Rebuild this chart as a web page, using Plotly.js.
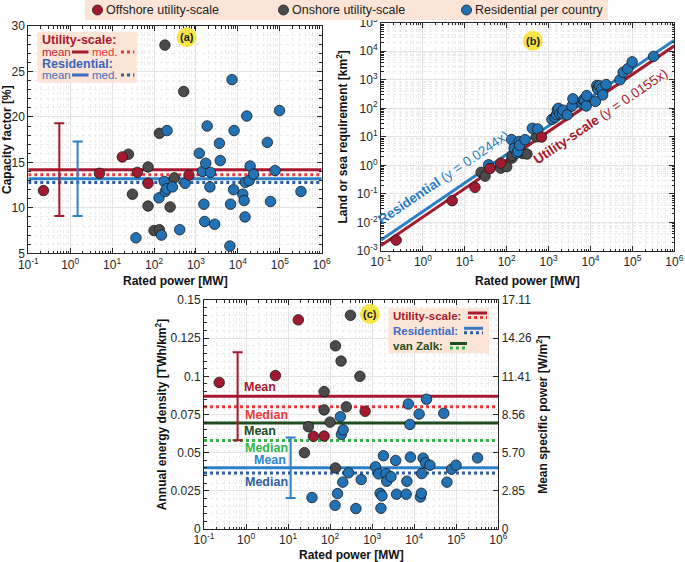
<!DOCTYPE html>
<html><head><meta charset="utf-8">
<script src="https://cdn.plot.ly/plotly-3.0.1.min.js"></script>
<style>html,body{margin:0;padding:0;background:#fff;}#chart{width:685px;height:562px;}</style>
</head><body><div id="chart"></div>
<script>
// ---------------- DATA ----------------
// Offshore utility-scale
const offP    = [0.23, 5, 17.5, 40, 72, 680];
const offCF   = [11.9, 13.8, 15.6, 13.9, 12.7, 13.6];
const offArea = [0.0024, 0.058, 0.17, 0.78, 1.2, 9.8];
const offED   = [0.096, 0.1005, 0.137, 0.0607, 0.0609, 0.0771];
// Onshore utility-scale
const onP    = [24.5, 30.5, 72, 72, 100, 134, 134, 182, 242, 305, 510];
const onCF   = [15.9, 11.5, 14.5, 10.2, 7.5, 18.2, 7.6, 27.9, 10.1, 13.3, 22.8];
const onArea = [0.57, 0.42, 1.0, 0.8, 0.9, 1.8, 2.2, 3.9, 2.6, 2.5, 10];
const onED   = [0.050, 0.067, 0.090, 0.078, 0.070, 0.120, 0.040, 0.110, 0.080, 0.140, 0.100];
// Residential per country
const resP  = [37, 131, 150, 175, 185, 200, 204, 274, 410, 549, 1200, 1425, 1545, 1615, 1710, 1850, 2150, 2220, 2800, 3620,
               3800, 6450, 6700, 7250, 7900, 8120, 13100, 14100, 14800, 15100, 16300, 18600, 19600, 23600, 50500, 60000, 77300, 98600, 320000];
const resCF = [6.7, 11.1, 7.0, 12.9, 11.8, 12.1, 18.5, 12.3, 7.6, 12.7, 16.0, 14.0, 10.4, 8.5, 14.9, 19.0, 12.3, 13.9, 8.2, 17.1,
               15.2, 5.8, 10.4, 24.1, 12.0, 18.5, 11.5, 10.8, 9.0, 12.8, 20.1, 13.0, 14.6, 13.7, 17.2, 10.7, 14.1, 20.7, 11.8];
const resArea = [1.05, 8, 4, 2.7, 3.1, 6.9, 5.1, 8, 20, 19, 41, 48, 60, 88, 100, 64, 64, 86, 59, 120,
                 215, 144, 195, 187, 121, 279, 175, 630, 500, 466, 620, 490, 295, 680, 1000, 1830, 2430, 4250, 6600];
const resED = [0.0206, 0.0155, 0.0232, 0.0736, 0.062, 0.0307, 0.065, 0.0368, 0.0134, 0.0324, 0.0407, 0.0361, 0.0234, 0.0136, 0.0217, 0.048, 0.0363, 0.0313, 0.0342, 0.0449,
               0.0228, 0.0228, 0.0313, 0.0819, 0.0685, 0.0471, 0.0753, 0.021, 0.0234, 0.0363, 0.0464, 0.0434, 0.085, 0.0418, 0.0758, 0.0307, 0.0392, 0.0418, 0.0466];

// Summary statistics
const lineX = [0.1, 1e6];
const aUtil = {mean: 14.2, median: 13.65, sd: 5.1, errX: 0.55};
const aRes  = {mean: 13.2, median: 12.8, sd: 4.1, errX: 1.5};
const cUtil = {mean: 0.0869, median: 0.0801, sd: 0.0288, errX: 0.63};
const cRes  = {mean: 0.0401, median: 0.0366, sd: 0.0198, errX: 11.5};
const cVanZalk = {mean: 0.0694, median: 0.058};
// Fit lines in (b)
const resFitY  = [0.00244, 24400];   // y = 0.0244x
const utilFitY = [0.00155, 15500];   // y = 0.0155x

// Tick labels
const decadesA = [0.1, 1, 10, 100, 1000, 1e4, 1e5, 1e6];
const decadesAText = ['10<sup>-1</sup>','10<sup>0</sup>','10<sup>1</sup>','10<sup>2</sup>','10<sup>3</sup>','10<sup>4</sup>','10<sup>5</sup>','10<sup>6</sup>'];
const decadesB = [1e-3, 1e-2, 0.1, 1, 10, 100, 1000, 1e4, 1e5];
const decadesBText = ['10<sup>-3</sup>','10<sup>-2</sup>','10<sup>-1</sup>','10<sup>0</sup>','10<sup>1</sup>','10<sup>2</sup>','10<sup>3</sup>','10<sup>4</sup>','10<sup>5</sup>'];
const edTicks = [0, 0.025, 0.05, 0.075, 0.1, 0.125, 0.15];
const edTickText = ['0', '0.025', '0.05', '0.075', '0.1', '0.125', '0.15'];
const spTickText = ['0', '2.85', '5.70', '8.56', '11.41', '14.26', '17.11'];

// ---------------- STYLE ----------------
const W = 685, H = 562;
const FONT = 'Liberation Sans, Arial, Helvetica, sans-serif';
const C = {
  off: '#a3192f', on: '#4b4b4b', res: '#2272b6',
  darkRed: '#a6192e', red: '#ea3a3c',
  blueMean: '#2c80c8', blueMed: '#2f5f9e',
  dGreen: '#1f4d1f', lGreen: '#33b54a',
  peach: '#fce4d6', yellow: '#f5e547', axis: '#262626'
};
function minorLog(a, b) { const v = []; for (let e = a; e < b; e++) for (let m = 2; m <= 9; m++) v.push(m * Math.pow(10, e)); return v; }
const axBase = {
  showline: true, linecolor: C.axis, linewidth: 1, mirror: 'ticks',
  ticks: 'inside', ticklen: 5, tickwidth: 1, tickcolor: C.axis,
  showgrid: true, gridcolor: '#e4e4e4', gridwidth: 1, zeroline: false,
  tickfont: {family: FONT, size: 12, color: C.axis}, automargin: false
};
const titleFont = {family: FONT, size: 12, color: '#111'};
const MINGRID = '#ececec';
function logAxis(domain, range, tv, tt, anchor, minA, minB, title) {
  return Object.assign({}, axBase, {
    type: 'log', domain, range, anchor, tickmode: 'array', tickvals: tv, ticktext: tt,
    minor: {tickmode: 'array', tickvals: minorLog(minA, minB), ticks: 'inside', ticklen: 2.5, tickcolor: C.axis,
            showgrid: true, gridcolor: MINGRID, griddash: 'dot', gridwidth: 1},
    title: title ? {text: title, font: titleFont} : undefined
  });
}
const mk = (color) => ({size: 10.5, color, line: {color: '#1a1a1a', width: 0.8}});
const traces = [];
function hline(xa, ya, yv, color, dash, width) {
  traces.push({x: lineX, y: [yv, yv], xaxis: xa, yaxis: ya, mode: 'lines', line: {color, dash, width}, hoverinfo: 'skip', showlegend: false});
}
function errbar(xa, ya, s, color) {
  traces.push({x: [s.errX], y: [s.mean], xaxis: xa, yaxis: ya, mode: 'markers', marker: {size: 1, color: 'rgba(0,0,0,0)'},
    error_y: {type: 'data', array: [s.sd], color, thickness: 2, width: 5}, hoverinfo: 'skip', showlegend: false});
}
function pts(xa, ya, x, y, color) {
  traces.push({x, y, xaxis: xa, yaxis: ya, mode: 'markers', marker: mk(color), hoverinfo: 'skip', showlegend: false});
}

// Panel (a)
hline('x', 'y', aUtil.mean, C.darkRed, 'solid', 3);
hline('x', 'y', aUtil.median, C.red, 'dot', 3);
hline('x', 'y', aRes.mean, C.blueMean, 'solid', 3);
hline('x', 'y', aRes.median, C.blueMed, 'dot', 3);
errbar('x', 'y', aUtil, C.darkRed);
errbar('x', 'y', aRes, C.blueMean);
pts('x', 'y', onP, onCF, C.on);
pts('x', 'y', resP, resCF, C.res);
pts('x', 'y', offP, offCF, C.off);

// Panel (b)
traces.push({x: lineX, y: utilFitY, xaxis: 'x2', yaxis: 'y2', mode: 'lines', line: {color: C.darkRed, width: 3}, hoverinfo: 'skip', showlegend: false});
traces.push({x: lineX, y: resFitY, xaxis: 'x2', yaxis: 'y2', mode: 'lines', line: {color: C.blueMean, width: 3}, hoverinfo: 'skip', showlegend: false});
pts('x2', 'y2', onP, onArea, C.on);
pts('x2', 'y2', resP, resArea, C.res);
pts('x2', 'y2', offP, offArea, C.off);

// Panel (c)
hline('x3', 'y3', cUtil.mean, C.darkRed, 'solid', 3);
hline('x3', 'y3', cUtil.median, C.red, 'dot', 3);
hline('x3', 'y3', cVanZalk.mean, C.dGreen, 'solid', 3);
hline('x3', 'y3', cVanZalk.median, C.lGreen, 'dot', 3);
hline('x3', 'y3', cRes.mean, C.blueMean, 'solid', 3);
hline('x3', 'y3', cRes.median, C.blueMed, 'dot', 3);
pts('x3', 'y3', onP, onED, C.on);
pts('x3', 'y3', resP, resED, C.res);
pts('x3', 'y3', offP, offED, C.off);
errbar('x3', 'y4', cUtil, C.darkRed);
errbar('x3', 'y4', cRes, C.blueMean);

// ---------------- LAYOUT ----------------
const px = (x) => x / W, py = (y) => 1 - y / H;
const shapes = [], ann = [];
function rect(x0, y0, x1, y1, fill) { shapes.push({type: 'rect', xref: 'paper', yref: 'paper', x0: px(x0), x1: px(x1), y0: py(y1), y1: py(y0), fillcolor: fill, line: {width: 0}, layer: 'above'}); }
function seg(x0, x1, y, color, dash) { shapes.push({type: 'line', xref: 'paper', yref: 'paper', x0: px(x0), x1: px(x1), y0: py(y), y1: py(y), line: {color, width: 3, dash}, layer: 'above'}); }
function circ(cx, cy, r, fill, lw) { shapes.push({type: 'circle', xref: 'paper', yref: 'paper', x0: px(cx - r), x1: px(cx + r), y0: py(cy + r), y1: py(cy - r), fillcolor: fill, line: {color: '#1a1a1a', width: lw}, layer: 'above'}); }
function txt(x, y, text, size, color, xanchor, angle) {
  ann.push({xref: 'paper', yref: 'paper', x: px(x), y: py(y), text, showarrow: false, xanchor: xanchor || 'left', yanchor: 'middle',
    font: {family: FONT, size, color}, textangle: angle || 0});
}

// Axis titles for the x axes
txt(175, 280.5, '<b>Rated power [MW]</b>', 12, '#111', 'center');
txt(527.6, 281, '<b>Rated power [MW]</b>', 12, '#111', 'center');
txt(351.2, 555, '<b>Rated power [MW]</b>', 12, '#111', 'center');

// Top legend
rect(85, 0, 608, 20, C.peach);
circ(97.5, 10, 5, C.off, 0.8); txt(104, 10.5, 'Offshore utility-scale', 12.5, '#222');
circ(283.5, 10, 5, C.on, 0.8); txt(290, 10.5, 'Onshore utility-scale', 12.5, '#222');
circ(466.5, 10, 5, C.res, 0.8); txt(473, 10.5, 'Residential per country', 12.5, '#222');

// Panel (a) inset legend
rect(37.3, 31.7, 136.7, 82.7, C.peach);
txt(39.5, 40, '<b>Utility-scale:</b>', 12.5, C.darkRed);
txt(39.5, 52, 'mean', 11.5, '#c42236'); seg(72, 88.5, 52, C.darkRed, 'solid');
txt(90, 52, 'med.', 11.5, C.red); seg(121, 134.3, 52, C.red, 'dot');
txt(39.5, 64, '<b>Residential:</b>', 12.5, '#3b66bb');
txt(39.5, 75, 'mean', 11.5, '#3f6ec0'); seg(72, 88.5, 75, '#3f6ec0', 'solid');
txt(90, 75, 'med.', 11.5, '#3f6ec0'); seg(121, 134.3, 75, C.blueMed, 'dot');

// Panel (c) legend
rect(388.3, 308.3, 489.3, 353.3, C.peach);
txt(391, 315.5, '<b>Utility-scale:</b>', 11.5, C.darkRed);
seg(468, 487, 313, C.darkRed, 'solid'); seg(468, 487, 317.5, C.red, 'dot');
txt(391, 330.5, '<b>Residential:</b>', 11.5, '#3d6cc6');
seg(464, 483, 328.3, '#3a78c8', 'solid'); seg(464, 483, 332.8, C.blueMed, 'dot');
txt(391, 346, '<b>van Zalk:</b>', 11.5, C.dGreen);
seg(450, 467, 343.5, C.dGreen, 'solid'); seg(450, 467, 348, C.lGreen, 'dot');

// Panel letters
circ(186.7, 37.3, 10, C.yellow, 0); txt(186.7, 37.5, '<b>(a)</b>', 11, '#222', 'center');
circ(532.7, 40.7, 10, C.yellow, 0); txt(532.7, 41, '<b>(b)</b>', 11, '#222', 'center');
circ(370, 314, 10, C.yellow, 0); txt(370, 314.3, '<b>(c)</b>', 11, '#222', 'center');

// Panel (b) fit labels
txt(443.5, 177.5, '<b>Residential</b> (y = 0.0244x)', 13.5, '#2a7cc4', 'center', -34.2);
txt(600.5, 116, '<b>Utility-scale</b> (y = 0.0155x)', 13.5, C.darkRed, 'center', -34.2);

// Panel (c) mean/median labels
txt(260, 387, '<b>Mean</b>', 12.5, C.darkRed, 'center');
txt(266.7, 415, '<b>Median</b>', 12.5, C.red, 'center');
txt(260, 431, '<b>Mean</b>', 12.5, C.dGreen, 'center');
txt(266.7, 448, '<b>Median</b>', 12.5, C.lGreen, 'center');
txt(270, 460, '<b>Mean</b>', 12.5, '#2a86d0', 'center');
txt(266.7, 482, '<b>Median</b>', 12.5, C.blueMed, 'center');

const layout = {
  width: W, height: H, margin: {l: 0, r: 0, t: 0, b: 0}, paper_bgcolor: '#fff', plot_bgcolor: '#fff',
  showlegend: false, font: {family: FONT, size: 12, color: C.axis},
  xaxis: logAxis([28.3 / W, 321.7 / W], [-1, 6], decadesA, decadesAText, 'y', -1, 6, null),
  yaxis: Object.assign({}, axBase, {domain: [1 - 253.3 / H, 1 - 26 / H], range: [5, 30], dtick: 5, anchor: 'x',
    minor: {dtick: 1, ticks: 'inside', ticklen: 2.5, tickcolor: C.axis, showgrid: true, gridcolor: MINGRID, griddash: 'dot'},
    title: {text: '<b>Capacity factor [%]</b>', font: titleFont}}),
  xaxis2: logAxis([381 / W, 674.3 / W], [-1, 6], decadesA, decadesAText, 'y2', -1, 6, null),
  yaxis2: logAxis([1 - 251 / H, 1 - 22.7 / H], [-3, 5], decadesB, decadesBText, 'x2', -3, 5, '<b>Land or sea requirement [km<sup>2</sup>]</b>'),
  xaxis3: logAxis([204 / W, 498.3 / W], [-1, 6], decadesA, decadesAText, 'y3', -1, 6, null),
  yaxis3: Object.assign({}, axBase, {domain: [1 - 529 / H, 1 - 300 / H], range: [0, 0.15], anchor: 'x3', mirror: true,
    tickmode: 'array', tickvals: edTicks, ticktext: edTickText,
    minor: {dtick: 0.005, ticks: 'inside', ticklen: 2.5, tickcolor: C.axis, showgrid: true, gridcolor: MINGRID, griddash: 'dot'},
    title: {text: '<b>Annual energy density [TWh/km<sup>2</sup>]</b>', font: titleFont}}),
  yaxis4: Object.assign({}, axBase, {overlaying: 'y3', side: 'right', anchor: 'x3', range: [0, 0.15], showgrid: false, mirror: false,
    tickmode: 'array', tickvals: edTicks, ticktext: spTickText,
    title: {text: '<b>Mean specific power [W/m<sup>2</sup>]</b>', font: titleFont}}),
  shapes, annotations: ann
};
Plotly.newPlot('chart', traces, layout, {staticPlot: true, displayModeBar: false});
</script></body></html>
